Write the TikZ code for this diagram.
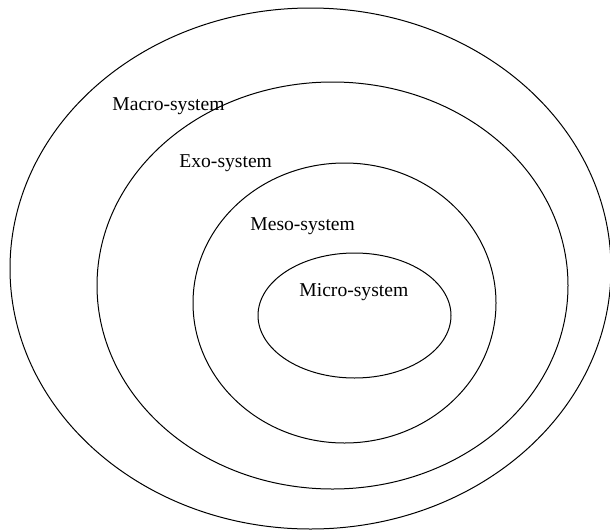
\documentclass[tikz,border=0pt]{standalone}
\usepackage{fontspec}
\setmainfont{Liberation Serif}
\usepackage{tikz}
\usetikzlibrary{positioning}

\begin{document}
\begin{tikzpicture}[x=0.5pt,y=-0.5pt,
  ring/.style={line width=0.5pt},
  lbl/.style={font=\fontsize{9.8}{12}\selectfont,inner sep=0pt,anchor=west}]
  \useasboundingbox (0,0) rectangle (610,530);
  \draw[ring] (310.5,268.5) ellipse (300.5 and 260.5);
  \draw[ring] (332.5,285.5) ellipse (235.5 and 203.5);
  \draw[ring] (344.5,303) ellipse (151.5 and 140);
  \draw[ring] (354.5,315.5) ellipse (96.5 and 62.5);
  \node[lbl] (macro) at (112,106.5) {Macro-system};
  \node[lbl] (exo) at (179,163.5) {Exo-system};
  \node[lbl] (meso) at (250,226.5) {Meso-system};
  \node[lbl] (micro) at (299,292) {Micro-system};
\end{tikzpicture}
\end{document}
